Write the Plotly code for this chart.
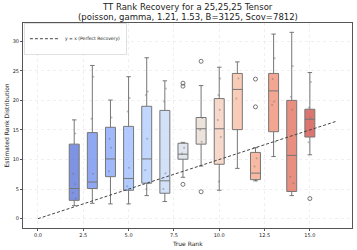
import numpy as np
import plotly.graph_objects as go

true_rank = [2, 3, 4, 5, 6, 7, 8, 9, 10, 11, 12, 13, 14, 15]
q1 = [3.1, 5.1, 7.1, 4.8, 6.0, 4.3, 10.05, 12.6, 9.2, 15.05, 6.6, 14.7, 4.6, 13.8]
median = [5.1, 6.2, 10.1, 6.8, 10.1, 6.4, 10.9, 15.2, 15.2, 21.85, 7.7, 21.6, 10.7, 16.8]
q3 = [12.6, 14.55, 15.45, 15.6, 19.0, 18.3, 12.75, 17.1, 20.3, 24.55, 11.2, 24.55, 20.0, 18.5]
lower = [2.2, 2.6, 2.5, 2.5, 3.9, 2.9, 7.0, 8.9, 4.8, 8.5, 6.4, 10.5, 3.9, 10.8]
upper = [16.7, 25.9, 20.05, 24.0, 27.2, 23.3, 12.9, 22.5, 25.6, 26.5, 12.0, 31.2, 31.5, 24.7]

points = [
    [14.4, 7.6, 5.8, 4.4, 3.4],
    [24.0, 16.9, 7.6],
    [17.1, 13.5, 12.0, 8.0],
    [20.4, 18.1, 8.6, 5.5],
    [21.5, 20.9, 13.5, 8.2, 6.0, 5.0],
    [22.0, 19.8, 7.7, 5.0],
    [12.0, 11.0],
    [17.0, 15.0, 13.0],
    [23.7, 20.9, 18.4, 16.7, 13.8, 6.3],
    [23.7, 20.3],
    [10.2, 8.8, 6.4],
    [27.1, 23.6, 19.8, 19.2, 13.0],
    [25.8, 20.6, 18.4, 7.1, 6.0],
    [23.1, 18.8, 17.1, 12.9],
]
jitter = [0.06, -0.05, 0.03, -0.08, 0.09, -0.02]

outlier_x = [8, 8, 8, 9, 9, 12, 12, 15]
outlier_y = [5.8, 22.9, 22.4, 26.6, 4.55, 23.6, 18.9, 3.4]

# coolwarm anchor table
cw = [(59,76,192),(68,90,204),(77,104,215),(87,117,225),(98,130,234),(108,142,241),
      (119,154,247),(130,165,251),(141,176,254),(152,185,255),(163,194,255),(174,201,253),
      (184,208,249),(194,213,244),(204,217,238),(213,219,230),(221,221,221),(229,216,209),
      (236,211,197),(241,204,185),(245,196,173),(247,187,160),(247,177,148),(247,166,135),
      (244,154,123),(241,141,111),(236,127,99),(229,112,88),(222,96,77),(213,80,66),
      (203,62,56),(192,40,47),(180,4,38)]
cw = np.array(cw, dtype=float)
grid_t = np.linspace(0, 1, len(cw))

def coolwarm(t):
    return [np.interp(t, grid_t, cw[:, k]) for k in range(3)]

n = len(true_rank)
ts = np.linspace(0, 1, n + 2)[1:-1]

fig = go.Figure()

for i, xr in enumerate(true_rank):
    r, g, b = coolwarm(ts[i])
    fig.add_trace(go.Box(
        x=[xr], q1=[q1[i]], median=[median[i]], q3=[q3[i]],
        lowerfence=[lower[i]], upperfence=[upper[i]],
        width=0.55, whiskerwidth=0.45,
        fillcolor=f"rgba({r:.0f},{g:.0f},{b:.0f},0.72)",
        line=dict(color="#767676", width=1),
        boxpoints=False, showlegend=False, hoverinfo="skip",
    ))

px, py = [], []
for i, xr in enumerate(true_rank):
    for j, v in enumerate(points[i]):
        px.append(xr + jitter[j % len(jitter)])
        py.append(v)
fig.add_trace(go.Scatter(x=px, y=py, mode="markers",
                         marker=dict(size=2, color="rgba(110,110,110,0.45)"),
                         showlegend=False, hoverinfo="skip"))

fig.add_trace(go.Scatter(x=outlier_x, y=outlier_y, mode="markers",
                         marker=dict(size=4, symbol="circle-open", color="#555555",
                                     line=dict(width=0.8)),
                         showlegend=False, hoverinfo="skip"))

line_x = [0, max(true_rank) * 1.1]
fig.add_trace(go.Scatter(x=line_x, y=line_x, mode="lines",
                         line=dict(color="#444444", width=1, dash="3px,2px"),
                         name="y = x (Perfect Recovery)"))

axis_common = dict(showgrid=True, gridcolor="#e4e4e4", griddash="dot", gridwidth=0.6,
                   showline=True, linecolor="#555555", linewidth=1, mirror=True,
                   ticks="outside", ticklen=2, tickcolor="#555555",
                   tickfont=dict(size=5, color="#222222", family="DejaVu Sans"),
                   zeroline=False)

fig.update_layout(
    width=357, height=250,
    margin=dict(l=23, r=5, t=23, b=22),
    plot_bgcolor="white", paper_bgcolor="white",
    hovermode=False,
    xaxis=dict(range=[-0.825, 17.325], tickvals=[0, 2.5, 5, 7.5, 10, 12.5, 15],
               tickformat=".1f", **axis_common),
    yaxis=dict(range=[-1.575, 33.075], tickvals=[0, 5, 10, 15, 20, 25, 30],
               **axis_common),
    legend=dict(x=0.004, y=0.997, xanchor="left", yanchor="top",
                bgcolor="rgba(255,255,255,0.85)", bordercolor="#cccccc", borderwidth=0.6,
                font=dict(size=4.5, family="DejaVu Sans", color="#222222"),
                itemwidth=30, tracegroupgap=0),
    annotations=[
        dict(text="TT Rank Recovery for a 25,25,25 Tensor", xref="paper", yref="paper",
             x=0.5, y=1 + (23 - 7) / 205, xanchor="center", yanchor="middle", showarrow=False,
             font=dict(size=8.5, family="DejaVu Sans", color="#222222")),
        dict(text="(poisson, gamma, 1.21, 1.53, B=3125, Scov=7812)", xref="paper", yref="paper",
             x=0.5, y=1 + (23 - 17) / 205, xanchor="center", yanchor="middle", showarrow=False,
             font=dict(size=8.5, family="DejaVu Sans", color="#222222")),
        dict(text="True Rank", xref="paper", yref="paper",
             x=0.5, y=-(243 - 228) / 205, xanchor="center", yanchor="middle", showarrow=False,
             font=dict(size=6, family="DejaVu Sans", color="#222222")),
        dict(text="Estimated Rank Distribution", xref="paper", yref="paper",
             x=-(23 - 6) / 329, y=0.5, xanchor="center", yanchor="middle", showarrow=False,
             textangle=-90, font=dict(size=6, family="DejaVu Sans", color="#222222")),
    ],
)

fig.write_html("out.html",
               config={"staticPlot": True, "displayModeBar": False},
               post_script="document.body.style.margin='0';document.body.style.overflow='hidden';")
